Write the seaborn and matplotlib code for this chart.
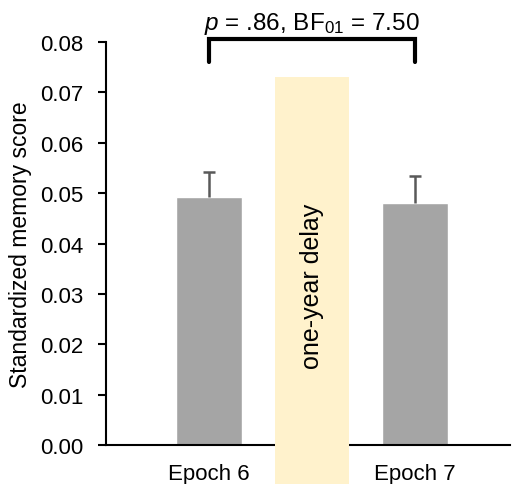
import pandas as pd
import seaborn as sns
import matplotlib.pyplot as plt
from matplotlib.patches import Rectangle

# DATI
epochs = ["Epoch 6", "Epoch 7"]
means = [0.0493, 0.0480]
sems = [0.0048, 0.0054]
order = ["Epoch 6", "gap", "Epoch 7"]
delay_label = "one-year delay"
delay_top = 0.073
stat_text = r"$\it{p}$ = .86, BF$_{01}$ = 7.50"

sns.set_theme(style="white")
plt.rcParams['font.family'] = ['Liberation Sans', 'DejaVu Sans']
plt.rcParams['mathtext.fontset'] = 'custom'
plt.rcParams['mathtext.rm'] = 'Liberation Sans'
plt.rcParams['mathtext.it'] = 'Liberation Sans:italic'
for k in ['text.color', 'axes.labelcolor', 'xtick.color', 'ytick.color']:
    plt.rcParams[k] = 'black'

df = pd.DataFrame({"epoch": epochs, "score": means})

fig = plt.figure(figsize=(5.13, 4.85), dpi=100)
ax = fig.add_axes([0.2066, 0.0804, 0.7875, 0.8309])

sns.barplot(data=df, x="epoch", y="score", order=order, color="#a5a5a5",
            saturation=1, width=0.64, errorbar=None, ax=ax, zorder=2)

# errori (solo verso l'alto)
xpos = [order.index(e) for e in epochs]
_, caps, _ = ax.errorbar(xpos, means, yerr=[[0, 0], sems], fmt="none", ecolor="#595959",
                         elinewidth=1.8, capsize=4, capthick=1.8, zorder=3)
caps[0].set_visible(False)

# banda "one-year delay"
gap_x = order.index("gap")
ax.add_patch(Rectangle((gap_x - 0.36, -0.0095), 0.72, delay_top + 0.0095,
                       facecolor="#fff2cc", edgecolor="none", clip_on=False, zorder=4))
ax.text(gap_x, 0.0316, delay_label, rotation=90, ha="center", va="center",
        fontsize=18, zorder=5)

# parentesi di confronto
yb, yl = 0.0806, 0.0760
ax.plot([xpos[0], xpos[0], xpos[1], xpos[1]], [yl, yb, yb, yl], color="black",
        lw=3, clip_on=False, solid_joinstyle="miter", zorder=5)
ax.text(gap_x, 0.0825, stat_text, ha="center", va="baseline", fontsize=17.5)

ax.set_xlim(-1.0, 2.92)
ax.set_ylim(0, 0.08)
ax.set_yticks([i * 0.01 for i in range(9)])
ax.set_yticklabels([f"{i * 0.01:.2f}" for i in range(9)])
ax.set_xticks([xpos[0], xpos[1]])
ax.set_xticklabels(epochs)
ax.set_xlabel("")
ax.set_ylabel("Standardized memory score", fontsize=16.5)
ax.yaxis.set_label_coords(-0.183, 0.5)

sns.despine(ax=ax)
for s in ["left", "bottom"]:
    ax.spines[s].set_linewidth(1.5)
    ax.spines[s].set_color("black")
ax.tick_params(axis="y", direction="out", length=6, width=1.5, color="black",
               labelsize=16, pad=10, left=True)
ax.tick_params(axis="x", length=0, labelsize=16, pad=13)

plt.savefig("out.png", dpi=100)
plt.close()
